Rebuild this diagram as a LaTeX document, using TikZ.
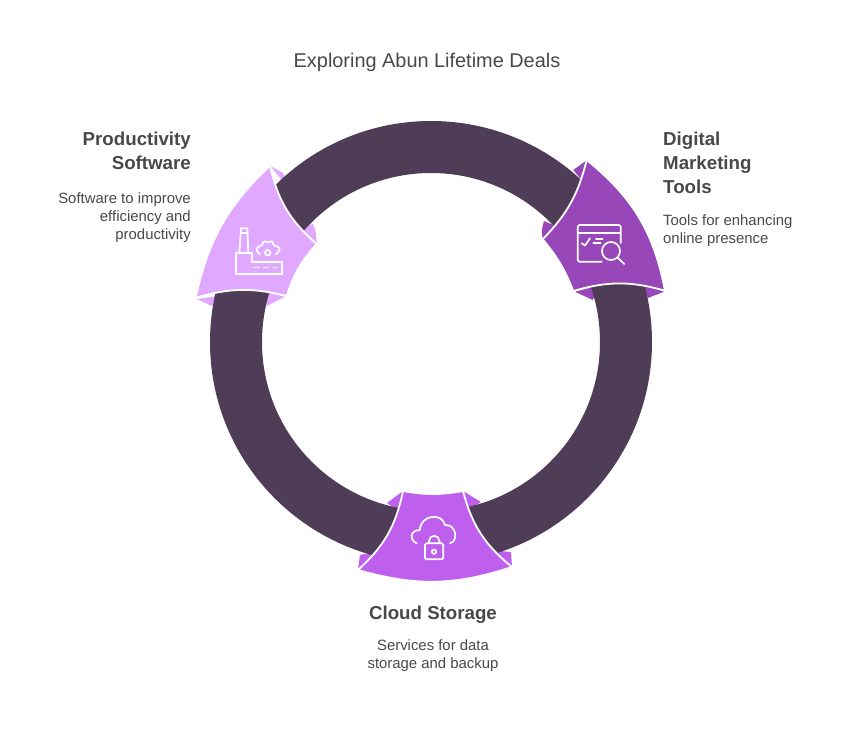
\documentclass[tikz,border=0pt]{standalone}
\usepackage{fontspec}
\setmainfont{Liberation Sans}
\definecolor{ringdark}{HTML}{4F3D57}
\definecolor{lilac}{HTML}{E0A8FF}
\definecolor{plum}{HTML}{9747B8}
\definecolor{orchid}{HTML}{BF5FEE}
\definecolor{inktext}{HTML}{484848}
\tikzset{
	leaf/.style={draw=white,line width=1.8pt,line join=miter},
	glyph/.style={draw=white,line width=1.7pt,line cap=round,line join=round},
	heading/.style={text=inktext,font=\bfseries\fontsize{18.7}{24}\selectfont,inner sep=0pt},
	blurb/.style={text=inktext,font=\fontsize{14.9}{18}\selectfont,inner sep=0pt}
}
\begin{document}
\begin{tikzpicture}[x=1pt,y=-1pt]
	\useasboundingbox (0,0) rectangle (854,734);
	\fill [lilac] (270,165.7) -- (283,173) -- (290,190) -- cycle;
	\fill [lilac] (313,224) .. controls (316,232) .. (316.7,244) -- (295,230) -- cycle;
	\fill [lilac] (196.7,299) -- (213,296.7) -- (225,290) -- (211.7,306) -- cycle;
	\fill [lilac] (285,296.7) -- (267,306) -- (260,290) -- cycle;
	\fill [plum] (573.3,170) -- (586,160.7) -- (590,190) -- cycle;
	\fill [plum] (544,221) .. controls (541.5,230) .. (542.7,239.3) -- (565,230) -- cycle;
	\fill [plum] (575,291.7) -- (592.7,300) -- (600,285) -- cycle;
	\fill [plum] (648,298) -- (664,291.7) -- (640,280) -- cycle;
	\fill [orchid] (403,491) -- (387,503) -- (405,515) -- cycle;
	\fill [orchid] (360,555) -- (358,570) -- (385,550) -- cycle;
	\fill [orchid] (463,491) -- (481,502) -- (460,515) -- cycle;
	\fill [orchid] (511,552) -- (512,567) -- (490,550) -- cycle;
	\fill [ringdark,even odd rule] (431,342) circle [radius=221] (431,342) circle [radius=169];
	\path [leaf,fill=lilac] (270,165.7) to [bend right=18] (316.7,244) to [bend right=12] (286.7,296) to [bend right=15] (195.7,297.7) to [bend left=17] cycle;
	\path [leaf,fill=plum] (586.7,160) to [bend left=20] (665,290.7) to [bend right=16] (573.3,291) to [bend right=9] (542.7,239.3) to [bend right=15] cycle;
	\path [leaf,fill=orchid] (403,491) to [bend left=18] (358,570) to [bend right=17] (512,567) to [bend left=18] (463,491) to [bend left=10] cycle;
	\draw [glyph] (239.3,253.3) -- (241,228.3) -- (247.3,228.3) -- (248.3,253.3);
	\draw [glyph] (240.6,233) -- (247.6,233);
	\draw [glyph] (236,253.3) -- (251.7,253.3) -- (251.7,261.7) -- (282.3,261.7) -- (282.3,274) -- (236,274) -- cycle;
	\draw [glyph,rounded corners=1.5pt] (260,254.3) -- (256.5,251) -- (257,247) -- (261.7,246) -- (264,240.5) -- (268,243) -- (272,240.5) -- (274,246) -- (279.5,247) -- (279.5,251) -- (276,254.3);
	\draw [glyph] (267.7,252.7) circle [radius=2.8];
	\draw [glyph] (254,267.5) -- (259,267.5);
	\draw [glyph] (264,267.5) -- (268,267.5);
	\draw [glyph] (273,267.5) -- (277,267.5);
	\draw [glyph,rounded corners=1.5pt] (620.7,243) -- (620.7,225) -- (577.7,225) -- (577.7,261.7) -- (601.7,261.7);
	\draw [glyph] (577.7,233.3) -- (620.7,233.3);
	\draw [glyph] (581.7,243.3) -- (585,245.5) -- (590,238.3);
	\draw [glyph] (593.3,243.3) -- (600.7,243.3);
	\draw [glyph] (596,239.3) -- (602.7,239.3);
	\draw [glyph] (611,251) circle [radius=9];
	\draw [glyph] (617.5,257.5) -- (624.3,264);
	\draw [glyph] (416.7,543.3) .. controls (409,540) and (410,530) .. (420,530) .. controls (420,515) and (442,512) .. (445,525) .. controls (456,524) and (459,541) .. (450,543.3);
	\draw [glyph,rounded corners=1.5pt] (425,543.3) rectangle (443.3,559.3);
	\draw [glyph] (429,543.3) -- (429,541) arc [start angle=180,end angle=360,radius=5.2] -- (439.4,543.3);
	\draw [glyph] (434,551.7) circle [radius=2.2];
	\node (title) [text=inktext,font=\fontsize{19.9}{22}\selectfont,inner sep=0pt] at (427,62.5) {Exploring Abun Lifetime Deals};
	\node (prodhead) [heading,align=right,anchor=north east] at (191,131.5) {Productivity\\Software};
	\node (prodtext) [blurb,align=right,anchor=north east] at (191,192) {Software to improve\\efficiency and\\productivity};
	\node (markhead) [heading,align=left,anchor=north west] at (663,131.5) {Digital\\Marketing\\Tools};
	\node (marktext) [blurb,align=left,anchor=north west] at (663,214) {Tools for enhancing\\online presence};
	\node (cloudhead) [heading] at (433,615) {Cloud Storage};
	\node (cloudtext) [blurb,align=center,anchor=north] at (433,639) {Services for data\\storage and backup};
\end{tikzpicture}
\end{document}
